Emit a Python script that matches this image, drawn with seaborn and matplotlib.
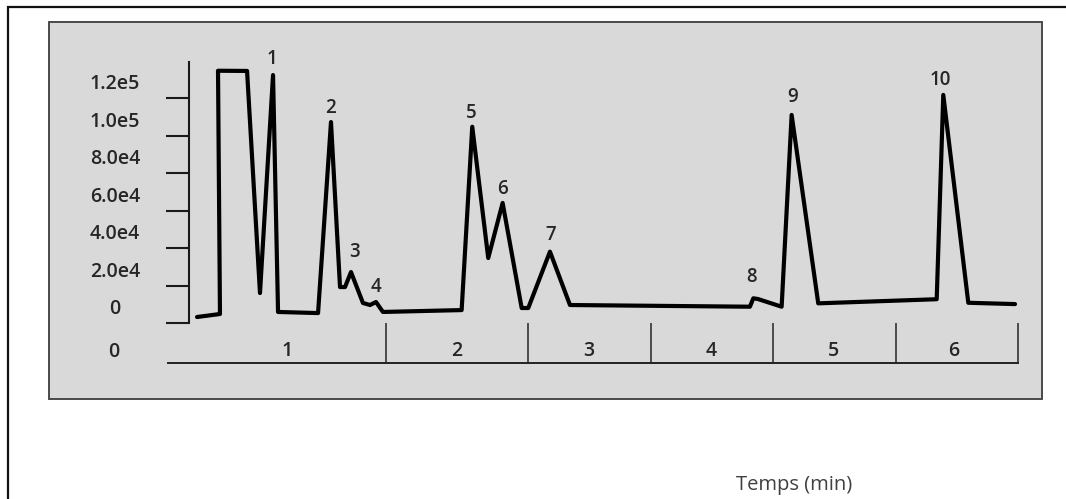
import matplotlib
matplotlib.use("Agg")
import matplotlib.pyplot as plt
import seaborn as sns
import pandas as pd
from matplotlib.patches import Rectangle
from matplotlib.transforms import offset_copy

# ---------------- data ----------------
time_min = [0.238, 0.426, 0.410, 0.648, 0.754, 0.861, 0.902, 1.230, 1.336, 1.410,
             1.451, 1.500, 1.598, 1.656, 1.705, 1.762, 2.407, 2.494, 2.625, 2.743,
             2.899, 2.953, 3.131, 3.295, 4.770, 4.798, 4.836, 5.030, 5.112, 5.330,
             6.301, 6.355, 6.560, 6.943]
intensity = [3200, 4800, 134700, 134600, 16000, 132400, 5900, 5300, 107300, 19200,
             19200, 27200, 10700, 9600, 11200, 5900, 6900, 104800, 34700, 64100,
             8000, 8000, 38100, 9600, 8700, 13200, 12800, 8700, 111100, 10500,
             12700, 121800, 10800, 10100]

peak_names = ["1", "2", "3", "4", "5", "6", "7", "8", "9", "10"]
peak_label_time = [0.852, 1.328, 1.525, 1.705, 2.489, 2.743, 3.137, 4.784, 5.120, 6.334]
peak_label_int = [141000, 114800, 37900, 19200, 112300, 71600, 47000, 24600, 120500, 129800]

ytick_values = [0, 20000, 40000, 60000, 80000, 100000, 120000]
ytick_labels = ["0", "2.0e4", "4.0e4", "6.0e4", "8.0e4", "1.0e5", "1.2e5"]

segment_edges = [1.787, 2.953, 3.963, 4.963, 5.965, 6.965]
segment_labels = ["1", "2", "3", "4", "5", "6"]
segment_label_time = [0.975, 2.369, 3.451, 4.451, 5.451, 6.443]

x_title = "Temps (min)"

# ---------------- figure ----------------
sns.set_style("white")
plt.rcParams["font.family"] = ["Open Sans", "DejaVu Sans"]

W, H = 1066, 499
fig = plt.figure(figsize=(W / 100, H / 100), dpi=100)
fig.patch.set_facecolor("white")

# outer frame (top and left edges visible)
fig.add_artist(Rectangle((8 / W, -0.1), 1.5, (1 - 7.3 / H) + 0.1, transform=fig.transFigure,
                         fill=False, edgecolor="#111111", lw=1.6, zorder=-20))
# grey panel
fig.add_artist(Rectangle((49 / W, 1 - 399 / H), (1041.5 - 49) / W, (399 - 21.5) / H,
                         transform=fig.transFigure, facecolor="#d9d9d9",
                         edgecolor="#4a4a4a", lw=1.4, zorder=-10))

# main axes: x from px 168 to 1017.7, y from px 62 to 363
ax = fig.add_axes([168 / W, 1 - 363 / H, (1017.7 - 168) / W, (363 - 62) / H])
ax.set_facecolor("none")
ax.set_xlim(0, 6.965)
ax.set_ylim(-21360, 139374)

df = pd.DataFrame({"t": time_min, "I": intensity})
sns.lineplot(data=df, x="t", y="I", sort=False, estimator=None, color="black",
             linewidth=3.0, ax=ax, zorder=5)

# spines
ax.spines["top"].set_visible(False)
ax.spines["right"].set_visible(False)
ax.spines["left"].set_position(("data", 0.176))
ax.spines["left"].set_bounds(0, 139374)
ax.spines["left"].set_linewidth(1.5)
ax.spines["left"].set_color("#1a1a1a")
ax.spines["bottom"].set_linewidth(1.4)
ax.spines["bottom"].set_color("#222222")

txt_color = "#262626"
num_font = dict(fontsize=14, color=txt_color, fontweight="semibold")

# y ticks (labels drawn a bit above each tick, as in the reference)
ax.set_yticks(ytick_values)
ax.tick_params(axis="y", direction="out", length=16.8, width=1.5, color="#1a1a1a",
               labelleft=False, left=True)
lab_tr = offset_copy(ax.transData, fig=fig, y=14, units="dots")
for v, s in zip(ytick_values, ytick_labels):
    ax.text(-0.434, v, s, transform=lab_tr, ha="center", va="center",
            clip_on=False, **num_font)
ax.text(-0.443, -15500, "0", ha="center", va="center", clip_on=False, **num_font)

# x axis with segment boundaries
ax.set_xticks(segment_edges)
ax.tick_params(axis="x", direction="in", length=29, width=1.2, color="#333333",
               labelbottom=False, bottom=True)
for tpos, s in zip(segment_label_time, segment_labels):
    ax.text(tpos, -14950, s, ha="center", va="center", **num_font)

# peak labels
for tpos, ipos, s in zip(peak_label_time, peak_label_int, peak_names):
    ax.text(tpos, ipos, s, ha="center", va="center", clip_on=False,
            fontsize=13.5, color=txt_color, fontweight="semibold")

ax.set_xlabel(x_title, fontsize=14.5, color="#404040", va="center")
ax.xaxis.set_label_coords((794.5 - 168) / (1017.7 - 168), (363 - 485) / (363 - 62))
ax.set_ylabel("")

fig.savefig("out.png", dpi=100, facecolor="white")
